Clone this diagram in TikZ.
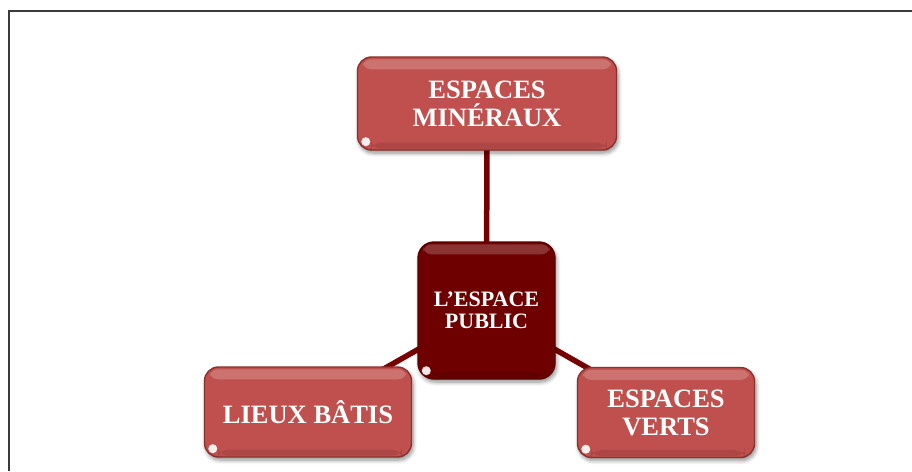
\documentclass[tikz,border=0pt]{standalone}
\usepackage{fontspec}
\setmainfont{Liberation Serif}
\usetikzlibrary{shadows.blur,backgrounds}
\definecolor{boxred}{HTML}{C0504D}
\definecolor{boxedge}{HTML}{8A302D}
\definecolor{hubred}{HTML}{6E0000}
\definecolor{hubedge}{HTML}{5A0000}
\definecolor{linkred}{HTML}{780000}
\definecolor{framegray}{HTML}{3A3A3A}
\begin{document}
\begin{tikzpicture}[x=1pt,y=-1pt,
  boxshadow/.style={blur shadow={shadow xshift=1.5pt,shadow yshift=-3pt,shadow blur steps=6,shadow blur radius=4pt,shadow opacity=45}},
  outerbox/.style={draw=boxedge,line width=1.4pt,fill=boxred,rounded corners=14pt,
    text=white,font=\bfseries\fontsize{26.5}{28}\selectfont,align=center,inner sep=0pt,boxshadow},
  hubbox/.style={draw=hubedge,line width=1.4pt,fill=hubred,rounded corners=16pt,
    text=white,font=\bfseries\fontsize{22}{22.5}\selectfont,align=center,inner sep=0pt,boxshadow},
  link/.style={draw=linkred,line width=5.5pt},
  gloss/.style={fill=white,opacity=0.2,rounded corners=8pt},
  bevel/.style={fill=black,opacity=0.1,rounded corners=10pt},
  glint/.style={fill=white,opacity=0.9}]
\useasboundingbox (0,0) rectangle (912,471);
\draw[framegray,line width=2pt] (9,471) -- (9,11) -- (912,11);

\node[outerbox,minimum width=259pt,minimum height=93pt] (min) at (487,103.5) {ESPACES\\MIN\'ERAUX};
\node[hubbox,minimum width=137pt,minimum height=137pt] (pub) at (486.5,310.5) {L'ESPACE\\PUBLIC};
\node[outerbox,minimum width=207pt,minimum height=90pt] (bat) at (308,412) {LIEUX B\^ATIS};
\node[outerbox,minimum width=177pt,minimum height=90pt] (ver) at (666,412.5) {ESPACES\\VERTS};

\begin{scope}[on background layer]
  \draw[link] (min.center) -- (pub.center);
  \draw[link] (pub.center) -- (bat.center);
  \draw[link] (pub.center) -- (ver.center);
\end{scope}

\foreach \n in {min,pub,bat,ver}{
  \fill[gloss] ([xshift=6pt,yshift=-3pt]\n.north west) rectangle ([xshift=-6pt,yshift=-13pt]\n.north east);
  \fill[bevel] ([xshift=14pt,yshift=2pt]\n.south west) rectangle ([xshift=-10pt,yshift=8pt]\n.south east);
  \fill[glint] ([shift={(9,-9)}]\n.south west) circle (4.5);
}
\end{tikzpicture}
\end{document}
